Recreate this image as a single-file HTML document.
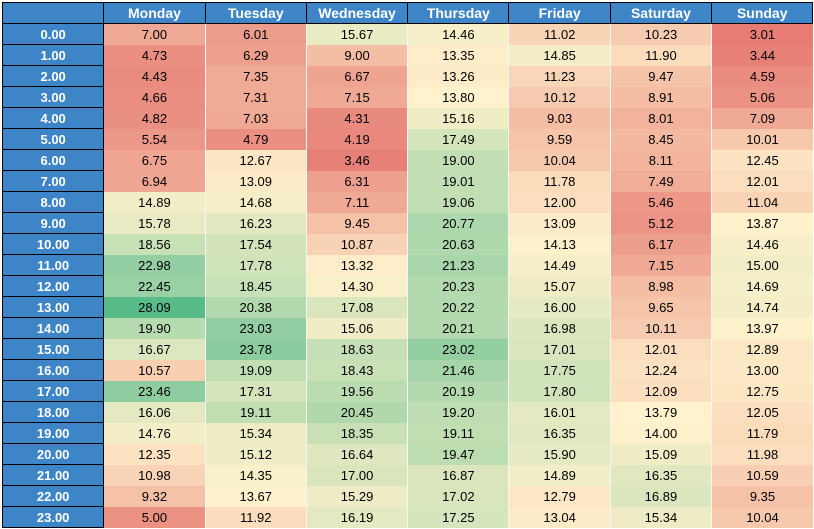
<!DOCTYPE html>
<html><head><meta charset="utf-8"><style>
body{margin:0;width:814px;height:529px;background:#fff;font-family:"Liberation Sans",Arial,sans-serif;overflow:hidden}
#wrap{position:absolute;left:2px;top:2px}
table{border-collapse:collapse;table-layout:fixed}
td,th{padding:0;height:20px;font-size:13px;text-align:center;white-space:nowrap;overflow:hidden}
th{background:#3d85c6;color:#fff;font-weight:bold;border:1px solid #000;font-size:14px}
th.rl{font-size:13px}
td{color:#000;border:none;border-left:1px solid rgba(0,0,0,0.04)}
</style></head><body>
<div id="wrap">
<table id="t"></table>
</div>
<script>
const days=["Monday","Tuesday","Wednesday","Thursday","Friday","Saturday","Sunday"];
const hours=["0.00","1.00","2.00","3.00","4.00","5.00","6.00","7.00","8.00","9.00","10.00","11.00","12.00","13.00","14.00","15.00","16.00","17.00","18.00","19.00","20.00","21.00","22.00","23.00"];
const monday=[7.00,4.73,4.43,4.66,4.82,5.54,6.75,6.94,14.89,15.78,18.56,22.98,22.45,28.09,19.90,16.67,10.57,23.46,16.06,14.76,12.35,10.98,9.32,5.00];
const tuesday=[6.01,6.29,7.35,7.31,7.03,4.79,12.67,13.09,14.68,16.23,17.54,17.78,18.45,20.38,23.03,23.78,19.09,17.31,19.11,15.34,15.12,14.35,13.67,11.92];
const wednesday=[15.67,9.00,6.67,7.15,4.31,4.19,3.46,6.31,7.11,9.45,10.87,13.32,14.30,17.08,15.06,18.63,18.43,19.56,20.45,18.35,16.64,17.00,15.29,16.19];
const thursday=[14.46,13.35,13.26,13.80,15.16,17.49,19.00,19.01,19.06,20.77,20.63,21.23,20.23,20.22,20.21,23.02,21.46,20.19,19.20,19.11,19.47,16.87,17.02,17.25];
const friday=[11.02,14.85,11.23,10.12,9.03,9.59,10.04,11.78,12.00,13.09,14.13,14.49,15.07,16.00,16.98,17.01,17.75,17.80,16.01,16.35,15.90,14.89,12.79,13.04];
const saturday=[10.23,11.90,9.47,8.91,8.01,8.45,8.11,7.49,5.46,5.12,6.17,7.15,8.98,9.65,10.11,12.01,12.24,12.09,13.79,14.00,15.09,16.35,16.89,15.34];
const sunday=[3.01,3.44,4.59,5.06,7.09,10.01,12.45,12.01,11.04,13.87,14.46,15.00,14.69,14.74,13.97,12.89,13.00,12.75,12.05,11.79,11.98,10.59,9.35,10.04];
const series=[monday,tuesday,wednesday,thursday,friday,saturday,sunday];
const all=series.flat();
const vmin=Math.min(...all),vmax=Math.max(...all);
const vmid=(()=>{const s=[...all].sort((a,b)=>a-b);return (s[s.length/2-1]+s[s.length/2])/2;})();
const cLo=[230,124,115],cMid=[255,242,204],cHi=[87,187,138];
function mix(a,b,t){return a.map((v,i)=>Math.round(v+(b[i]-v)*t));}
function color(v){
  const c=v<=vmid?mix(cLo,cMid,(v-vmin)/(vmid-vmin)):mix(cMid,cHi,(v-vmid)/(vmax-vmid));
  return `rgb(${c[0]},${c[1]},${c[2]})`;
}
const t=document.getElementById('t');
const cg=document.createElement('colgroup');
for(let i=0;i<8;i++){const c=document.createElement('col');c.style.width='101.3px';cg.appendChild(c);}
t.appendChild(cg);
const hr=document.createElement('tr');


const corner=document.createElement('th');


hr.appendChild(corner);
days.forEach(d=>{
  const th=document.createElement('th');
  th.textContent=d;
  
  
  hr.appendChild(th);
});
t.appendChild(hr);
hours.forEach((h,r)=>{
  const tr=document.createElement('tr');
  
  
  const th=document.createElement('th');
  th.className='rl';
  th.textContent=h;
  
  
  tr.appendChild(th);
  series.forEach((s,c)=>{
    const td=document.createElement('td');
    td.textContent=s[r].toFixed(2);
    td.style.background=color(s[r]);
    
    
    tr.appendChild(td);
  });
  t.appendChild(tr);
});
</script>
</body></html>
